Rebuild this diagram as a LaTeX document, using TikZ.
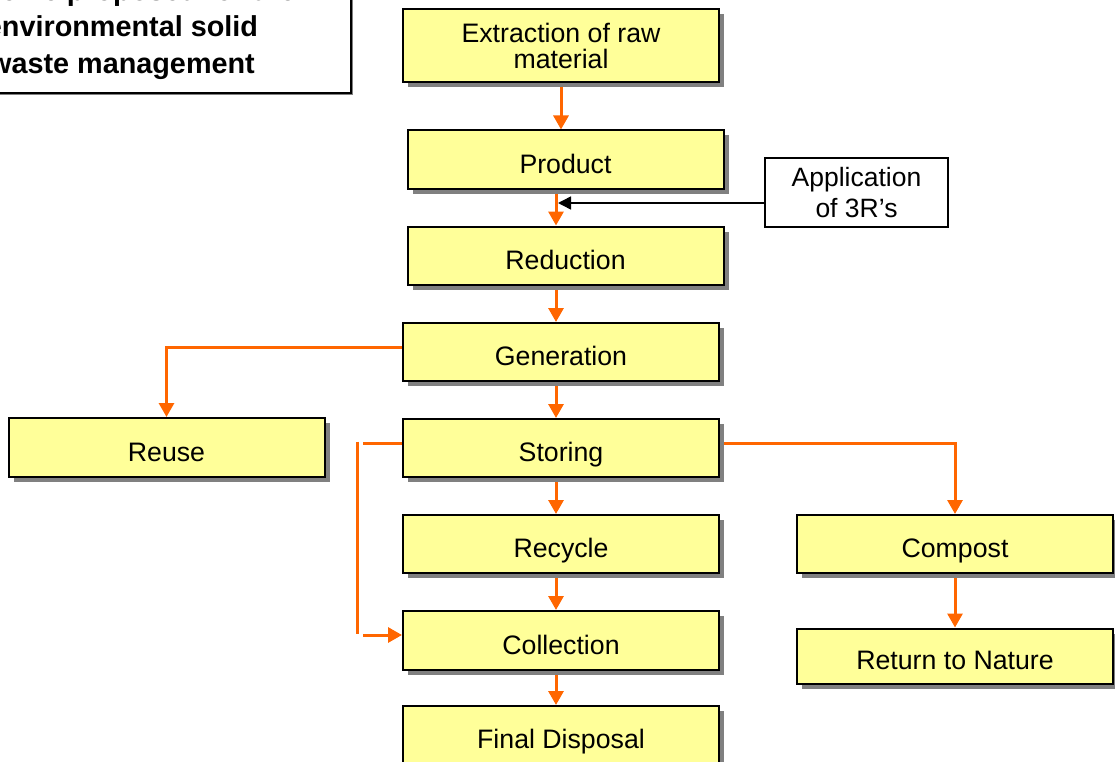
\documentclass[tikz,border=0pt]{standalone}
\usepackage{fontspec}
\setmainfont{Liberation Sans}
\usetikzlibrary{arrows.meta,shadows,backgrounds}
\definecolor{boxyellow}{HTML}{FFFF99}
\definecolor{flowor}{HTML}{FF6600}
\definecolor{shadowgrey}{HTML}{808080}
\tikzset{
  basebox/.style={draw=black, line width=2pt, fill=boxyellow, minimum width=316pt,
    minimum height=58pt, inner sep=0pt, align=center,
    font=\fontsize{26.7}{26}\selectfont,
    drop shadow={shadow xshift=5pt, shadow yshift=-5pt, fill=shadowgrey, opacity=1}},
  onebox/.style={basebox, text height=27pt, text depth=0pt},
  notebox/.style={draw=black, line width=1.5pt, fill=white, minimum width=183pt,
    minimum height=69pt, inner sep=0pt, align=center,
    font=\fontsize{26.5}{31}\selectfont},
  titlebox/.style={draw=black, line width=1.5pt, fill=white, minimum width=458pt,
    minimum height=127.4pt, inner sep=0pt, align=center,
    font=\fontsize{28.8}{36.5}\selectfont\bfseries,
    drop shadow={shadow xshift=2pt, shadow yshift=-2pt, fill=shadowgrey, opacity=1}},
  flowline/.style={draw=flowor, line width=3pt},
  flow/.style={flowline, -{Triangle[width=15pt,length=14pt]}},
  hint/.style={draw=black, line width=1.5pt, -{Triangle[width=13pt,length=13pt]}}
}
\begin{document}
\begin{tikzpicture}[x=1pt,y=-1pt]
\useasboundingbox (0,0) rectangle (1115,762);

\node[titlebox] (title) at (122,29.3) {Scheme proposed for the\\environmental solid\\waste management};

\node[basebox, minimum height=73pt] (ext) at (561,45.5) {Extraction of raw\\material};
\node[onebox] (prod) at (565.5,159.5) {Product};
\node[onebox] (red) at (565.5,255.5) {Reduction};
\node[onebox] (gen) at (561,352) {Generation};
\node[onebox, minimum height=59pt] (reuse) at (166.5,447.5) {Reuse};
\node[onebox] (sto) at (561,448) {Storing};
\node[onebox] (rec) at (561,544) {Recycle};
\node[onebox, minimum height=59pt] (coll) at (561,640.5) {Collection};
\node[onebox] (fin) at (561,735) {Final Disposal};
\node[onebox] (comp) at (955,544) {Compost};
\node[onebox, minimum height=55pt] (ret) at (955,656) {Return to Nature};
\node[notebox] (app) at (856.5,192.5) {Application\\of 3R’s};

\coordinate (axis) at (556,0);
\coordinate (appy) at (0,203);

\begin{scope}[on background layer]
\draw[flow] (ext.south) -- (ext.south |- prod.north);
\draw[flow] (prod.south -| axis) -- (red.north -| axis);
\draw[flow] (red.south -| axis) -- (gen.north -| axis);
\draw[flow] ([yshift=5pt]gen.west) -| (reuse.north);
\draw[flow] (gen.south -| axis) -- (sto.north -| axis);
\draw[flow] (sto.south -| axis) -- (rec.north -| axis);
\draw[flow] ([yshift=5pt]sto.east) -| (comp.north);
\draw[flowline] ([yshift=5pt]sto.west) -- ([xshift=-39pt,yshift=5pt]sto.west);
\draw[flowline] ([xshift=-44.5pt,yshift=6.5pt]sto.west) -- ([xshift=-44.5pt,yshift=7pt]coll.west);
\draw[flow] ([xshift=-39pt,yshift=5.5pt]coll.west) -- ([yshift=5.5pt]coll.west);
\draw[flow] (rec.south -| axis) -- (coll.north -| axis);
\draw[flow] (coll.south -| axis) -- (fin.north -| axis);
\draw[flow] (comp.south) -- (ret.north);
\end{scope}
\coordinate (hintend) at ([xshift=2pt]axis |- appy);
\draw[hint] (app.west |- appy) -- (hintend);
\end{tikzpicture}
\end{document}
